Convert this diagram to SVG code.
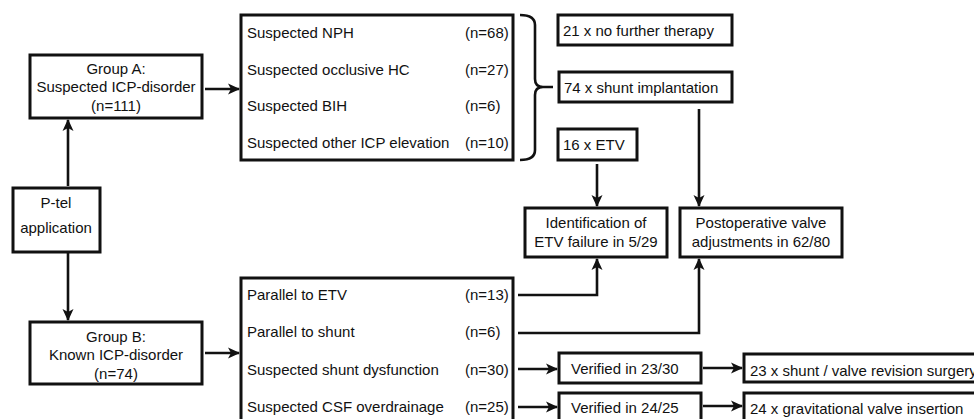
<svg xmlns="http://www.w3.org/2000/svg" width="974" height="419" viewBox="0 0 974 419">
<style>
.box{fill:#fff;stroke:#111;stroke-width:3}
.t{font-family:"Liberation Sans",Arial,sans-serif;font-size:15px;fill:#111}
.c{text-anchor:middle}
.con{fill:none;stroke:#111;stroke-width:2.6}
.arr{marker-end:url(#ah)}
</style>
<defs>
<marker id="ah" viewBox="0 0 12 12" refX="11" refY="6" markerWidth="12" markerHeight="12" markerUnits="userSpaceOnUse" orient="auto">
<path d="M0,0.5 L12,6 L0,11.5 L3,6 Z" fill="#111"/>
</marker>
</defs>
<rect width="974" height="419" fill="#fff"/>

<g id="groupA">
<rect class="box" x="30" y="55" width="172" height="63"/>
<text class="t c" x="116" y="74">Group A:</text>
<text class="t c" x="116" y="92">Suspected ICP-disorder</text>
<text class="t c" x="116" y="111">(n=111)</text>
</g>
<g id="ptel">
<rect class="box" x="13" y="188" width="87" height="64"/>
<text class="t c" x="56" y="208">P-tel</text>
<text class="t c" x="56" y="233">application</text>
</g>
<g id="groupB">
<rect class="box" x="30" y="322" width="172" height="62"/>
<text class="t c" x="116" y="342">Group B:</text>
<text class="t c" x="116" y="360">Known ICP-disorder</text>
<text class="t c" x="116" y="379">(n=74)</text>
</g>
<g id="listA">
<rect class="box" x="241" y="15" width="272" height="145"/>
<text class="t" x="247" y="38">Suspected NPH</text><text class="t" x="465" y="38">(n=68)</text>
<text class="t" x="247" y="75">Suspected occlusive HC</text><text class="t" x="465" y="75">(n=27)</text>
<text class="t" x="247" y="111">Suspected BIH</text><text class="t" x="465" y="111">(n=6)</text>
<text class="t" x="247" y="148">Suspected other ICP elevation</text><text class="t" x="465" y="148">(n=10)</text>
</g>
<g id="listB">
<rect class="box" x="241" y="278" width="272" height="150"/>
<text class="t" x="247" y="300">Parallel to ETV</text><text class="t" x="465" y="300">(n=13)</text>
<text class="t" x="247" y="337">Parallel to shunt</text><text class="t" x="465" y="337">(n=6)</text>
<text class="t" x="247" y="375">Suspected shunt dysfunction</text><text class="t" x="465" y="375">(n=30)</text>
<text class="t" x="247" y="412">Suspected CSF overdrainage</text><text class="t" x="465" y="412">(n=25)</text>
</g>
<g id="noTherapy">
<rect class="box" x="558" y="15" width="174" height="30"/>
<text class="t" x="563" y="36">21 x no further therapy</text>
</g>
<g id="shunt">
<rect class="box" x="559" y="72" width="173" height="30"/>
<text class="t" x="564" y="93">74 x shunt implantation</text>
</g>
<g id="etv">
<rect class="box" x="558" y="129" width="79" height="31"/>
<text class="t" x="563" y="150">16 x ETV</text>
</g>
<g id="ident">
<rect class="box" x="525" y="208" width="142" height="49"/>
<text class="t c" x="596" y="228">Identification of</text>
<text class="t c" x="596" y="247">ETV failure in 5/29</text>
</g>
<g id="postop">
<rect class="box" x="680" y="208" width="162" height="49"/>
<text class="t c" x="761" y="228">Postoperative valve</text>
<text class="t c" x="761" y="247">adjustments in 62/80</text>
</g>
<g id="ver1">
<rect class="box" x="559" y="353" width="142" height="30"/>
<text class="t" x="571" y="374">Verified in 23/30</text>
</g>
<g id="ver2">
<rect class="box" x="559" y="393" width="142" height="35"/>
<text class="t" x="571" y="413">Verified in 24/25</text>
</g>
<g id="revision">
<rect class="box" x="744" y="354" width="250" height="28"/>
<text class="t" x="750" y="376">23 x shunt / valve revision surgery</text>
</g>
<g id="gravitational">
<rect class="box" x="744" y="393" width="250" height="35"/>
<text class="t" x="750" y="414">24 x gravitational valve insertion</text>
</g>

<g id="connectors">
<path class="con arr" d="M68,186 V120"/>
<path class="con arr" d="M68,253 V320"/>
<path class="con arr" d="M205,89 H239"/>
<path class="con arr" d="M205,353 H239"/>
<path class="con" d="M520,15 Q535,15 535,25 V79 Q535,87 543,87 H553 M543,87 Q535,87 535,95 V150 Q535,160 520,160"/>
<path class="con arr" d="M597,164 V206"/>
<path class="con arr" d="M699,109 V206"/>
<path class="con arr" d="M518,295 H597 V259"/>
<path class="con arr" d="M518,333 H699 V259"/>
<path class="con arr" d="M518,369 H557"/>
<path class="con arr" d="M518,407 H557"/>
<path class="con arr" d="M703,368 H742"/>
<path class="con arr" d="M703,406 H742"/>
</g>
</svg>
